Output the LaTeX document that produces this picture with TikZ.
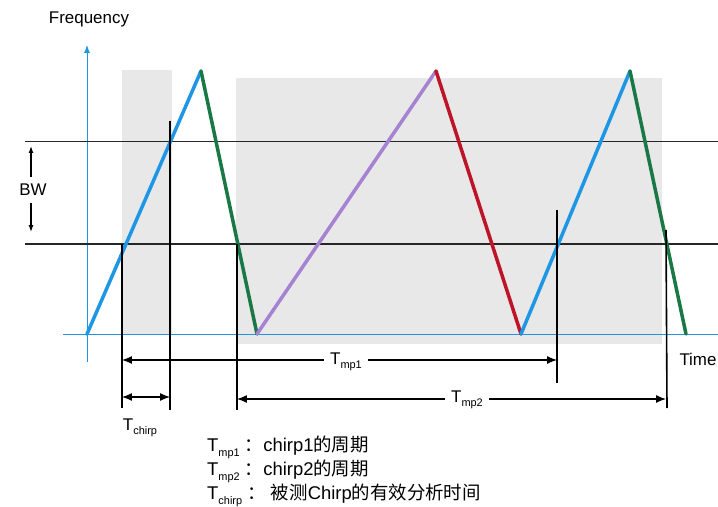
\documentclass[tikz,border=0pt]{standalone}
\usepackage{fontspec}
\setmainfont{Liberation Sans}
\newfontfamily\cjk{Noto Sans CJK SC}
\usetikzlibrary{positioning, arrows.meta}

\definecolor{chirpblue}{RGB}{30,150,230}
\definecolor{chirpgreen}{RGB}{25,120,70}
\definecolor{chirppurple}{RGB}{165,130,210}
\definecolor{chirpred}{RGB}{190,20,40}
\definecolor{winfill}{RGB}{232,232,232}

\newcommand{\lowsub}[1]{\raisebox{-0.5ex}{\fontsize{11}{12}\selectfont #1}}

\begin{document}
\begin{tikzpicture}[
    x=1bp, y=-1bp,
    axis/.style={draw=chirpblue, line width=0.9bp},
    level/.style={draw=black!85, line width=0.8bp},
    ramp/.style={line width=3.5bp, line cap=round},
    marker/.style={draw=black, line width=1.6bp},
    span/.style={{Latex[length=10pt,width=8pt]}-{Latex[length=10pt,width=8pt]}, line width=1.2bp},
    lbl/.style={font=\fontsize{17}{20}\selectfont, inner sep=3pt},
    dimlbl/.style={lbl, fill=white, inner xsep=6pt}
  ]
    \useasboundingbox (0,0) rectangle (718,507);

    % Analysis windows (gray)
    \fill[winfill] (122,70) rectangle (172,334);
    \fill[winfill] (236,78) rectangle (662,344);

    % Axes
    \draw[axis, -{Latex[length=8pt,width=6pt]}] (87,362) -- (87,45);
    \draw[axis] (63,334) -- (718,334);
    \node[lbl] (freq) at (89,19) {Frequency};
    \node[lbl] (time) at (698,359) {Time};

    % Bandwidth levels
    \draw[level] (25,141) -- (718,141);
    \draw[level, line width=1.4bp] (25,244) -- (718,244);
    \node[lbl] (bw) at (33,190) {BW};
    \coordinate (bw-up) at (31,146);
    \coordinate (bw-dn) at (31,232);
    \draw[-{Latex[length=7pt,width=5pt]}, line width=1.2bp] (bw.north -| bw-up) ++(0,-4) -- (bw-up);
    \draw[-{Latex[length=7pt,width=5pt]}, line width=1.2bp] (bw.south -| bw-dn) ++(0,4) -- (bw-dn);

    % Chirp corners
    \coordinate (c0) at (87,334);
    \coordinate (c1) at (201,71);
    \coordinate (c2) at (257,334);
    \coordinate (c3) at (436,71);
    \coordinate (c4) at (521,334);
    \coordinate (c5) at (630,71);
    \coordinate (c6) at (686,334);

    % Chirps
    \draw[ramp, chirpblue] (c0) -- (c1);
    \draw[ramp, chirpgreen] (c1) -- (c2);
    \draw[ramp, chirppurple] (c2) -- (c3);
    \draw[ramp, chirpred] (c3) -- (c4);
    \draw[ramp, chirpblue] (c4) -- (c5);
    \draw[ramp, chirpgreen] (c5) -- (c6);

    % Time markers
    \coordinate (m1-top) at (122,244); \coordinate (m1-bot) at (122,408);
    \coordinate (m2-top) at (170,121); \coordinate (m2-bot) at (170,410);
    \coordinate (m3-top) at (237,244); \coordinate (m3-bot) at (237,410);
    \coordinate (m4-top) at (557,210); \coordinate (m4-bot) at (557,383);
    \coordinate (m5-top) at (666,230); \coordinate (m5-bot) at (667,408);
    \foreach \m in {1,...,5}
      \draw[marker] (m\m-top) -- (m\m-bot);

    % Periods
    \draw[span] (122,360) -- (557,360);
    \node[dimlbl] (tmp1) at (346,362) {T\lowsub{mp1}};
    \draw[span] (237,399) -- (666,399);
    \node[dimlbl] (tmp2) at (467,400) {T\lowsub{mp2}};
    \draw[span] (122,397) -- (170,397);
    \node[lbl] (tchirp) at (140,428) {T\lowsub{chirp}};

    % Legend
    \node[lbl, anchor=north west, align=left, inner sep=0pt,
          font=\fontsize{18.5}{22}\selectfont] (legend) at (207,436)
      {T\lowsub{mp1}\ {\cjk ：}chirp1{\cjk 的周期}\\
       T\lowsub{mp2}\ {\cjk ：}chirp2{\cjk 的周期}\\
       T\lowsub{chirp}\ {\cjk ：}\ {\cjk 被测}Chirp{\cjk 的有效分析时间}};
\end{tikzpicture}
\end{document}
